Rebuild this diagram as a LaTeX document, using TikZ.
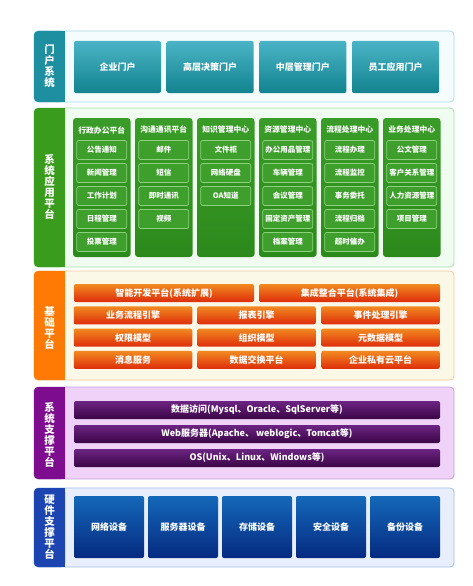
\documentclass[tikz,border=0pt]{standalone}
\usepackage{fontspec}
\setmainfont{Noto Sans CJK SC}
\definecolor{tealSide}{HTML}{1E8FA0}\definecolor{tealBg}{HTML}{F4FCFE}\definecolor{tealLine}{HTML}{A6DCE8}
\definecolor{tealTop}{HTML}{4AB4C6}\definecolor{tealBot}{HTML}{12838F}
\definecolor{greenSide}{HTML}{3A9C1C}\definecolor{greenBg}{HTML}{F0FCF0}\definecolor{greenLine}{HTML}{A8E2A8}
\definecolor{greenTop}{HTML}{3A9C28}\definecolor{greenBot}{HTML}{2C8A1C}\definecolor{greenItem}{HTML}{3E9F2C}\definecolor{greenItemLine}{HTML}{8CD27C}
\definecolor{orangeSide}{HTML}{FF7A05}\definecolor{orangeBg}{HTML}{FCF8E8}\definecolor{orangeLine}{HTML}{F8C898}
\definecolor{orangeTop}{HTML}{F28A20}\definecolor{orangeBot}{HTML}{DE2C0A}
\definecolor{purpleSide}{HTML}{7D0D8E}\definecolor{purpleBg}{HTML}{F0D2F8}\definecolor{purpleLine}{HTML}{C8A0DC}
\definecolor{purpleTop}{HTML}{6C2482}\definecolor{purpleBot}{HTML}{3A0546}
\definecolor{blueSide}{HTML}{1C45B2}\definecolor{blueBg}{HTML}{E8EEFC}\definecolor{blueLine}{HTML}{A0C0E8}
\definecolor{blueTop}{HTML}{1468BA}\definecolor{blueBot}{HTML}{052A80}

\begin{document}
\begin{tikzpicture}[x=1pt,y=-1pt,font=\bfseries\fontsize{9}{10}\selectfont,
  frame/.style={rounded corners=4pt,line width=0.8pt},
  side/.style={text=white,align=center,font=\bfseries\fontsize{10.5}{11}\selectfont},
  tile/.style={rounded corners=2pt,text=white,inner sep=0pt},
  column/.style={rounded corners=3pt,top color=greenTop,bottom color=greenBot,inner sep=0pt,minimum width=57.5pt,minimum height=139pt},
  item/.style={rounded corners=2pt,fill=greenItem,draw=greenItemLine,line width=0.7pt,text=white,inner sep=0pt,
    minimum width=50pt,minimum height=19pt,font=\bfseries\fontsize{7.5}{9}\selectfont}]
\useasboundingbox[fill=white] (0,0) rectangle (472,586);
% portal layer
\draw[frame,draw=tealLine,fill=tealBg] (34,31) rectangle (454,102);
\fill[tealSide,rounded corners=4pt] (34,31) rectangle (65,102);\fill[tealSide] (55,31) rectangle (65,102);
\node[side] (portal) at (49.5,66.5) {门\\户\\系\\统};
\foreach \t [count=\i from 0] in {企业门户,高层决策门户,中层管理门户,员工应用门户}
  \node[tile,minimum width=87pt,minimum height=52pt,top color=tealTop,bottom color=tealBot] (portal\i) at (117.5+92.67*\i,67) {\t};
% application layer
\draw[frame,draw=greenLine,fill=greenBg] (34,108) rectangle (454,267);
\fill[greenSide,rounded corners=4pt] (34,108) rectangle (65,267);\fill[greenSide] (55,108) rectangle (65,267);
\node[side] (apps) at (49.5,187) {系\\统\\应\\用\\平\\台};
\foreach \t/\l [count=\i from 0] in {行政办公平台/{公告通知,新闻管理,工作计划,日程管理,投票管理},
  沟通通讯平台/{邮件,短信,即时通讯,视频},知识管理中心/{文件柜,网络硬盘,OA知道},
  资源管理中心/{办公用品管理,车辆管理,会议管理,固定资产管理,档案管理},
  流程处理中心/{流程办理,流程监控,事务委托,流程归档,超时催办},
  业务处理中心/{公文管理,客户关系管理,人力资源管理,项目管理}}{
  \node[column] (col\i) at (101.75+62*\i,187.5) {};
  \node[text=white,font=\bfseries\fontsize{7.8}{9}\selectfont] (head\i) at (101.75+62*\i,130) {\t};
  \foreach \s [count=\j from 0] in \l
    \node[item] (item\i-\j) at (101.75+62*\i,150+23*\j) {\s};
}
% base platform layer
\draw[frame,draw=orangeLine,fill=orangeBg] (34,271) rectangle (454,380);
\fill[orangeSide,rounded corners=4pt] (34,271) rectangle (65,380);\fill[orangeSide] (55,271) rectangle (65,380);
\node[side] (base) at (49.5,328) {基\\础\\平\\台};
\node[tile,minimum width=180pt,minimum height=18pt,top color=orangeTop,bottom color=orangeBot] (dev) at (164,293) {智能开发平台(系统扩展)};
\node[tile,minimum width=181pt,minimum height=18pt,top color=orangeTop,bottom color=orangeBot] (integ) at (349.5,293) {集成整合平台(系统集成)};
\foreach \a/\b/\c [count=\r from 1] in {业务流程引擎/报表引擎/事件处理引擎,权限模型/组织模型/元数据模型,消息服务/数据交换平台/企业私有云平台}{
  \node[tile,minimum width=118.5pt,minimum height=18pt,top color=orangeTop,bottom color=orangeBot] (base\r a) at (133,293+22.3*\r) {\a};
  \node[tile,minimum width=118.5pt,minimum height=18pt,top color=orangeTop,bottom color=orangeBot] (base\r b) at (256.5,293+22.3*\r) {\b};
  \node[tile,minimum width=118.5pt,minimum height=18pt,top color=orangeTop,bottom color=orangeBot] (base\r c) at (380.5,293+22.3*\r) {\c};
}
% system support layer
\draw[frame,draw=purpleLine,fill=purpleBg] (34,387) rectangle (454,479);
\fill[purpleSide,rounded corners=4pt] (34,387) rectangle (65,479);\fill[purpleSide] (55,387) rectangle (65,479);
\node[side] (sys) at (49.5,435) {系\\统\\支\\撑\\平\\台};
\foreach \t [count=\i from 0] in {数据访问(Mysql、Oracle、SqlServer等),Web服务器(Apache、 weblogic、Tomcat等),OS(Unix、Linux、Windows等)}
  \node[tile,minimum width=366pt,minimum height=18pt,top color=purpleTop,bottom color=purpleBot] (sys\i) at (257,410+24*\i) {\t};
% hardware layer
\draw[frame,draw=blueLine,fill=blueBg] (34,488) rectangle (454,567);
\fill[blueSide,rounded corners=4pt] (34,488) rectangle (65,567);\fill[blueSide] (55,488) rectangle (65,567);
\node[side] (hw) at (49.5,527.5) {硬\\件\\支\\撑\\平\\台};
\foreach \t [count=\i from 0] in {网络设备,服务器设备,存储设备,安全设备,备份设备}
  \node[tile,minimum width=70pt,minimum height=62pt,top color=blueTop,bottom color=blueBot] (hw\i) at (109+74*\i,527) {\t};
\end{tikzpicture}
\end{document}
